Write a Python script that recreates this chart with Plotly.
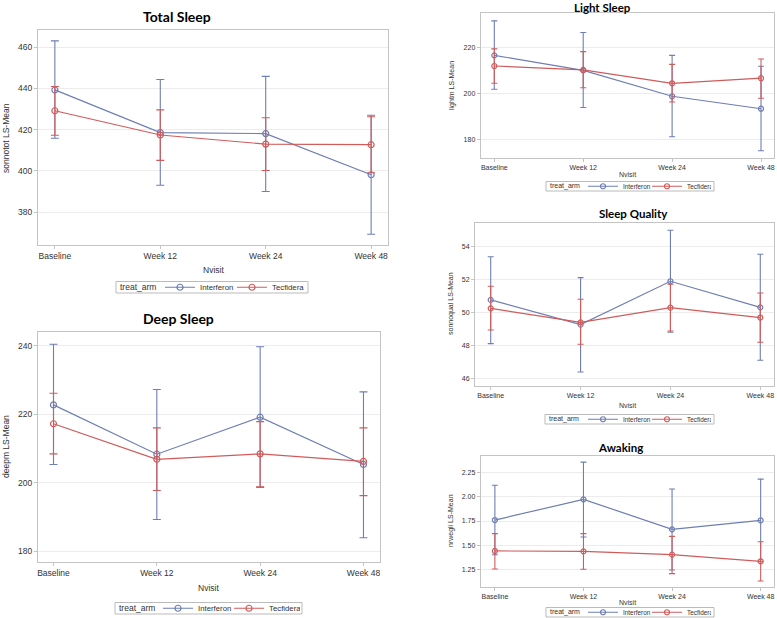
import plotly.graph_objects as go

visits = ["Baseline", "Week 12", "Week 24", "Week 48"]
arms = ["Interferon", "Tecfidera"]

# Total Sleep (sonnotot)
total_int_mean = [439.3, 418.6, 418.1, 398.1]
total_int_lo = [415.8, 393.0, 390.0, 369.2]
total_int_hi = [463.1, 444.4, 445.9, 427.0]
total_tec_mean = [429.2, 417.4, 413.0, 412.7]
total_tec_lo = [417.3, 405.1, 400.2, 399.1]
total_tec_hi = [441.0, 429.6, 425.8, 426.3]
total_ticks = [380, 400, 420, 440, 460]

# Deep Sleep (deepm)
deep_int_mean = [222.7, 208.3, 219.1, 205.3]
deep_int_lo = [205.3, 189.2, 198.6, 183.9]
deep_int_hi = [240.4, 227.2, 239.7, 226.5]
deep_tec_mean = [217.2, 206.8, 208.4, 206.2]
deep_tec_lo = [208.4, 197.7, 198.8, 196.2]
deep_tec_hi = [226.1, 216.0, 217.8, 216.0]
deep_ticks = [180, 200, 220, 240]

# Light Sleep (lightm)
light_int_mean = [216.5, 210.0, 198.8, 193.4]
light_int_lo = [201.8, 193.9, 181.3, 175.2]
light_int_hi = [231.4, 226.4, 216.5, 211.8]
light_tec_mean = [211.9, 210.2, 204.4, 206.6]
light_tec_lo = [204.4, 202.5, 196.3, 197.9]
light_tec_hi = [219.3, 218.1, 212.6, 214.9]
light_ticks = [180, 200, 220]

# Sleep Quality (sonnoqual)
qual_int_mean = [50.75, 49.25, 51.88, 50.30]
qual_int_lo = [48.10, 46.38, 48.79, 47.09]
qual_int_hi = [53.37, 52.10, 54.97, 53.52]
qual_tec_mean = [50.24, 49.39, 50.28, 49.68]
qual_tec_lo = [48.93, 48.06, 48.87, 48.18]
qual_tec_hi = [51.58, 50.79, 51.70, 51.17]
qual_ticks = [46, 48, 50, 52, 54]

# Awaking (nrwegli)
awak_int_mean = [1.760, 1.974, 1.664, 1.757]
awak_int_lo = [1.400, 1.585, 1.243, 1.329]
awak_int_hi = [2.120, 2.360, 2.081, 2.184]
awak_tec_mean = [1.440, 1.436, 1.402, 1.333]
awak_tec_lo = [1.253, 1.250, 1.205, 1.129]
awak_tec_hi = [1.619, 1.619, 1.591, 1.536]
awak_ticks = [1.25, 1.50, 1.75, 2.00, 2.25]

W, H = 777, 618
BLUE = "#6F7EB3"
RED = "#D05B5B"
GRID = "#ECECEC"
FRAME = "#C4C4C4"
TXT = "#333333"


def px(x):
    return x / W


def py(y):
    return 1 - y / H


panels = [
    dict(name="Total Sleep", ylab="sonnotot LS-Mean",
         data=[(total_int_mean, total_int_lo, total_int_hi), (total_tec_mean, total_tec_lo, total_tec_hi)],
         ticks=total_ticks, fmt=None,
         box=(38, 388, 30, 245), xr=[-0.16, 3.16], yr=[364, 468.4],
         title_xy=(177, 16), tsize=14, fsize=8.5, cap=4,
         xlab_xy=(213, 270), ylab_xy=(6, 138),
         legbox=(116, 308, 281.5, 293), legtitle_x=118, legitems_x=160,
         legfs=7.8, legtfs=8.5, entryw=27),
    dict(name="Deep Sleep", ylab="deepm LS-Mean",
         data=[(deep_int_mean, deep_int_lo, deep_int_hi), (deep_tec_mean, deep_tec_lo, deep_tec_hi)],
         ticks=deep_ticks, fmt=None,
         box=(38, 380, 332, 562), xr=[-0.15, 3.16], yr=[176.8, 244],
         title_xy=(178.5, 318), tsize=14, fsize=8.5, cap=4,
         xlab_xy=(208, 588), ylab_xy=(6, 447),
         legbox=(115, 302, 602.5, 614), legtitle_x=117, legitems_x=158,
         legfs=7.8, legtfs=8.5, entryw=26),
    dict(name="Light Sleep", ylab="lightm LS-Mean",
         data=[(light_int_mean, light_int_lo, light_int_hi), (light_tec_mean, light_tec_lo, light_tec_hi)],
         ticks=light_ticks, fmt=None,
         box=(480.7, 774, 13.3, 157.7), xr=[-0.153, 3.146], yr=[172.2, 234.7],
         title_xy=(602, 7.5), tsize=11.5, fsize=7, cap=3,
         xlab_xy=(627, 174), ylab_xy=(452, 86),
         legbox=(546, 714, 181.5, 191), legtitle_x=548, legitems_x=583,
         legfs=6.4, legtfs=7, entryw=19),
    dict(name="Sleep Quality", ylab="sonnoqual LS-Mean",
         data=[(qual_int_mean, qual_int_lo, qual_int_hi), (qual_tec_mean, qual_tec_lo, qual_tec_hi)],
         ticks=qual_ticks, fmt=None,
         box=(475, 774.3, 222.7, 385.7), xr=[-0.175, 3.156], yr=[45.55, 55.43],
         title_xy=(633, 213), tsize=11.5, fsize=7, cap=3,
         xlab_xy=(627, 405), ylab_xy=(451, 304),
         legbox=(545, 714, 414.5, 424), legtitle_x=547, legitems_x=583,
         legfs=6.4, legtfs=7, entryw=19),
    dict(name="Awaking", ylab="nrwegli LS-Mean",
         data=[(awak_int_mean, awak_int_lo, awak_int_hi), (awak_tec_mean, awak_tec_lo, awak_tec_hi)],
         ticks=awak_ticks, fmt=".2f",
         box=(480.7, 774.3, 456, 586.7), xr=[-0.16, 3.154], yr=[1.07, 2.423],
         title_xy=(620, 447.7), tsize=11.5, fsize=7, cap=3,
         xlab_xy=(627, 602), ylab_xy=(451, 521),
         legbox=(546, 714, 607.5, 617), legtitle_x=548, legitems_x=583,
         legfs=6.4, legtfs=7, entryw=19),
]

fig = go.Figure()
layout = dict(width=W, height=H, margin=dict(l=0, r=0, t=0, b=0, autoexpand=False),
              paper_bgcolor="white", plot_bgcolor="white",
              font=dict(family="Liberation Sans, Arial, sans-serif", color=TXT))
annotations = []
shapes = []

for i, p in enumerate(panels):
    k = "" if i == 0 else str(i + 1)
    xa, ya = "x" + k, "y" + k
    legname = "legend" + k
    x0, x1, y0, y1 = p["box"]
    fs = p["fsize"]
    for (mean, lo, hi), arm, col in zip(p["data"], arms, [BLUE, RED]):
        fig.add_trace(go.Scatter(
            x=visits, y=mean, name=arm, mode="lines+markers",
            xaxis=xa, yaxis=ya, legend=legname,
            line=dict(color=col, width=1.2),
            marker=dict(symbol="circle-open", size=6 if fs > 8 else 5, color=col, line=dict(width=1.2)),
            error_y=dict(type="data", symmetric=False,
                         array=[h - m for h, m in zip(hi, mean)],
                         arrayminus=[m - l for m, l in zip(mean, lo)],
                         color=col, thickness=1.1, width=p["cap"]),
        ))
    layout["xaxis" + k] = dict(
        domain=[px(x0), px(x1)], anchor=ya, type="category", range=p["xr"],
        showgrid=False, zeroline=False, showline=True, linecolor=FRAME, linewidth=1, mirror=True,
        ticks="outside", ticklen=3, tickcolor=FRAME, tickfont=dict(size=fs, color=TXT),
        automargin=False, fixedrange=True)
    yax = dict(
        domain=[py(y1), py(y0)], anchor=xa, range=p["yr"], tickvals=p["ticks"],
        showgrid=True, gridcolor=GRID, gridwidth=1, zeroline=False,
        showline=True, linecolor=FRAME, linewidth=1, mirror=True,
        ticks="outside", ticklen=3, tickcolor=FRAME, tickfont=dict(size=fs, color=TXT),
        automargin=False, fixedrange=True)
    if p["fmt"]:
        yax["tickformat"] = p["fmt"]
    layout["yaxis" + k] = yax
    bx0, bx1, by0, by1 = p["legbox"]
    cy = (by0 + by1) / 2
    layout[legname] = dict(
        orientation="h", x=px(p["legitems_x"]), y=py(cy),
        xanchor="left", yanchor="middle",
        font=dict(size=p["legfs"], color=TXT), borderwidth=0,
        entrywidth=p["entryw"], entrywidthmode="pixels",
        bgcolor="rgba(0,0,0,0)", itemwidth=30, tracegroupgap=0)
    shapes.append(dict(type="rect", xref="paper", yref="paper",
                       x0=px(bx0), x1=px(bx1), y0=py(by1), y1=py(by0),
                       line=dict(color="#BBBBBB", width=1), layer="below"))
    annotations.append(dict(
        text="treat_arm", x=px(p["legtitle_x"]), y=py(cy),
        xref="paper", yref="paper", showarrow=False, xanchor="left", yanchor="middle",
        font=dict(size=p["legtfs"], color=TXT)))
    annotations.append(dict(
        text="<b>" + p["name"] + "</b>", x=px(p["title_xy"][0]), y=py(p["title_xy"][1]),
        xref="paper", yref="paper", showarrow=False, xanchor="center", yanchor="middle",
        font=dict(family="Lato, Open Sans, sans-serif", size=p["tsize"], color="black")))
    annotations.append(dict(
        text="Nvisit", x=px(p["xlab_xy"][0]), y=py(p["xlab_xy"][1]),
        xref="paper", yref="paper", showarrow=False, xanchor="center", yanchor="middle",
        font=dict(size=fs, color=TXT)))
    annotations.append(dict(
        text=p["ylab"], x=px(p["ylab_xy"][0]), y=py(p["ylab_xy"][1]), textangle=-90,
        xref="paper", yref="paper", showarrow=False, xanchor="center", yanchor="middle",
        font=dict(size=fs, color=TXT)))

layout["annotations"] = annotations
layout["shapes"] = shapes
layout["showlegend"] = True
fig.update_layout(**layout)
fig.write_html(
    "out.html",
    config={"displayModeBar": False},
    post_script=("document.documentElement.style.margin='0';"
                 "document.body.style.margin='0';document.body.style.padding='0';"
                 "document.body.style.overflow='hidden';"),
)
